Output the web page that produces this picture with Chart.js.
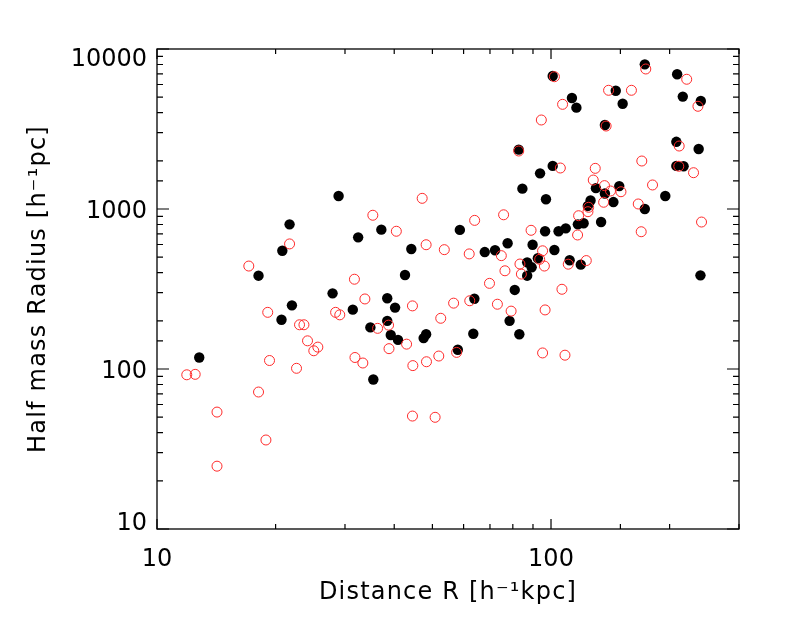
<!DOCTYPE html>
<html>
<head>
<meta charset="utf-8">
<script src="https://cdn.jsdelivr.net/npm/chart.js@4.4.1/dist/chart.umd.min.js"></script>
<style>
  html, body { margin: 0; padding: 0; background: #fff; }
  #wrap { width: 786px; height: 629px; }
</style>
</head>
<body>
<div id="wrap"><canvas id="c" width="786" height="629"></canvas></div>
<script>
// ---- data ----
const blackX = [12.8, 28.9, 21.7, 32.4, 20.8, 18.1, 27.9, 22.0, 31.4, 20.7, 84.6, 97.1, 37.1, 58.7, 96.6, 44.2, 67.9, 72.1, 77.6, 89.8, 92.6, 87.0, 89.3, 87.0, 42.6, 80.9, 38.4, 40.2, 63.9, 78.5, 38.4, 34.8, 39.2, 40.9, 48.2, 47.5, 63.5, 83.1, 58.0, 35.4, 173, 101, 209, 146, 113, 116, 152, 216, 240, 137, 208, 237, 101, 93.8, 208, 217, 130, 149, 137, 195, 126, 124, 144, 173, 117, 121, 134, 104.5, 109, 102, 111.5, 119, 239.5, 82.8];
const blackY = [118, 1205, 802, 665, 548, 383, 297, 250, 235, 203, 1340, 1150, 743, 740, 726, 562, 538, 552, 611, 598, 492, 464, 432, 383, 387, 312, 277, 242, 275, 200, 200, 182, 163, 152, 165, 156, 166, 165, 132, 86, 8020, 6780, 6950, 5480, 4940, 4300, 4550, 5040, 4730, 3350, 2630, 2370, 1860, 1670, 1860, 1850, 1350, 1390, 1250, 1205, 1130, 1045, 1105, 1000, 802, 814, 829, 726, 757, 554, 478, 449, 385, 2350];
const redX = [21.7, 17.1, 31.7, 19.1, 28.4, 29.1, 23.0, 23.6, 24.1, 25.6, 25.0, 19.3, 31.8, 11.9, 12.5, 22.6, 18.1, 14.2, 18.9, 14.2, 47.1, 35.3, 40.5, 64.0, 75.8, 89.0, 48.2, 53.6, 62.0, 74.8, 95.2, 93.6, 83.4, 96.2, 76.4, 84.1, 69.8, 33.7, 44.5, 56.6, 62.2, 73.1, 79.2, 96.6, 52.5, 36.3, 38.7, 38.8, 43.0, 57.6, 51.9, 48.3, 44.6, 33.3, 95.2, 108.5, 44.5, 50.8, 174, 102, 221, 140, 160, 107, 236, 94.5, 138, 211.5, 170, 105.6, 129.5, 211, 230, 128, 136.7, 181, 141.6, 150.5, 136, 166.5, 124.6, 124.1, 117.5, 241, 116.8, 169.4, 110.6, 122.9, 106.6, 82.8];
const redY = [605, 440, 364, 226, 226, 218, 189, 189, 150, 137, 130, 113, 118, 92, 92.6, 101, 71.8, 53.8, 36, 24.7, 1166, 914, 726, 849, 920, 736, 598, 557, 524, 511, 548, 485, 453, 440, 411, 392, 343, 274, 248, 258, 267, 254, 230, 234, 207.5, 179.5, 188, 134, 143, 127, 120.5, 111, 105, 109, 126, 122, 50.8, 49.9, 7500, 6710, 6470, 5520, 5520, 4510, 4385, 3600, 3300, 2475, 1995, 1804, 1795, 1850, 1686, 1517, 1400, 1413, 1296, 1282, 1102, 1075, 1025, 962, 908, 829, 688, 721, 452, 476, 315, 2304];

const xRange = [10, 300];
const yRange = [10, 10000];
const xTickLabels = [10, 100];
const yTickLabels = [10, 100, 1000, 10000];
const xTitle = 'Distance R [h\u207B\u00B9kpc]';
const yTitle = 'Half mass Radius [h\u207B\u00B9pc]';

const FONT = '"DejaVu Sans", sans-serif';

function isPow10(v) {
  const l = Math.log10(v);
  return Math.abs(l - Math.round(l)) < 1e-9;
}

const spacing = {
  id: 'spacing',
  beforeDraw(chart) {
    if ('letterSpacing' in chart.ctx) chart.ctx.letterSpacing = '1.2px';
  }
};

const frameAndTicks = {
  id: 'frameAndTicks',
  afterDatasetsDraw(chart) {
    const { ctx, chartArea: a, scales } = chart;
    const xs = scales.x, ys = scales.y;
    ctx.save();
    if ('letterSpacing' in ctx) ctx.letterSpacing = '0px';
    ctx.strokeStyle = '#000';
    ctx.lineWidth = 1.3;
    ctx.strokeRect(a.left, a.top, a.right - a.left, a.bottom - a.top);
    ctx.lineWidth = 1.2;
    ctx.beginPath();
    xs.ticks.forEach(t => {
      const px = xs.getPixelForValue(t.value);
      const len = isPow10(t.value) ? 10 : 5;
      ctx.moveTo(px, a.bottom); ctx.lineTo(px, a.bottom - len);
      ctx.moveTo(px, a.top); ctx.lineTo(px, a.top + len);
    });
    ys.ticks.forEach(t => {
      const py = ys.getPixelForValue(t.value);
      const len = isPow10(t.value) ? 12 : 6;
      ctx.moveTo(a.left, py); ctx.lineTo(a.left + len, py);
      ctx.moveTo(a.right, py); ctx.lineTo(a.right - len, py);
    });
    ctx.stroke();

    ctx.fillStyle = '#000';
    ctx.font = '24px ' + FONT;
    ctx.textBaseline = 'alphabetic';
    ctx.textAlign = 'center';
    xTickLabels.forEach(v => {
      ctx.fillText(String(v), xs.getPixelForValue(v), a.bottom + 37);
    });
    ctx.textAlign = 'right';
    yTickLabels.forEach((v, i) => {
      const py = ys.getPixelForValue(v);
      let base;
      if (i === 0) base = a.bottom + 1;
      else if (i === yTickLabels.length - 1) base = a.top + 17;
      else base = py + 9;
      ctx.fillText(String(v), a.left - 10, base);
    });
    ctx.restore();
  }
};

new Chart(document.getElementById('c'), {
  type: 'scatter',
  data: {
    datasets: [
      {
        label: 'open',
        data: redX.map((x, i) => ({ x, y: redY[i] })),
        pointStyle: 'circle',
        pointRadius: 5,
        pointHoverRadius: 5,
        backgroundColor: 'rgba(0,0,0,0)',
        borderColor: '#ff2a2a',
        borderWidth: 1,
        order: 0
      },
      {
        label: 'filled',
        data: blackX.map((x, i) => ({ x, y: blackY[i] })),
        pointStyle: 'circle',
        pointRadius: 5.2,
        pointHoverRadius: 5.2,
        backgroundColor: '#000',
        borderColor: '#000',
        borderWidth: 0,
        order: 1
      }
    ]
  },
  options: {
    responsive: false,
    animation: false,
    devicePixelRatio: 1,
    layout: { padding: { top: 49, right: 47, left: 0, bottom: 0 } },
    plugins: { legend: { display: false }, tooltip: { enabled: false } },
    scales: {
      x: {
        type: 'logarithmic',
        min: xRange[0], max: xRange[1],
        grid: { display: false, drawTicks: false },
        border: { display: false },
        ticks: { display: false },
        title: {
          display: true, text: xTitle, color: '#000',
          font: { family: FONT, size: 24 },
          padding: { top: 0, bottom: 22 }
        },
        afterFit(s) { s.height = 100; }
      },
      y: {
        type: 'logarithmic',
        min: yRange[0], max: yRange[1],
        grid: { display: false, drawTicks: false },
        border: { display: false },
        ticks: { display: false },
        title: {
          display: true, text: yTitle, color: '#000',
          font: { family: FONT, size: 24 },
          padding: { top: 24, bottom: 0 }
        },
        afterFit(s) { s.width = 157; }
      }
    }
  },
  plugins: [spacing, frameAndTicks]
});
</script>
</body>
</html>
